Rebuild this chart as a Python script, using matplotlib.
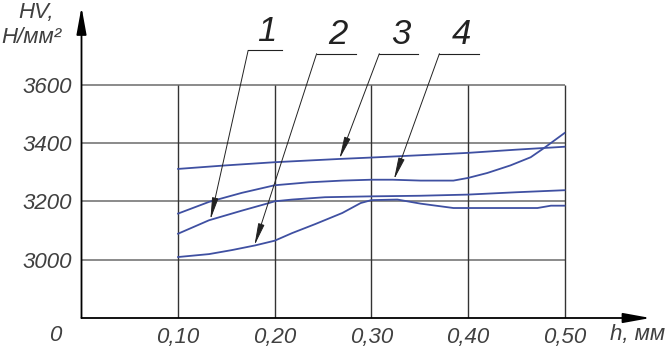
import numpy as np
import matplotlib.pyplot as plt
from matplotlib import font_manager

# Data
x_ticks = [0.10, 0.20, 0.30, 0.40, 0.50]
x_labels = ["0,10", "0,20", "0,30", "0,40", "0,50"]
y_ticks = [3000, 3200, 3400, 3600]
y_labels = ["3000", "3200", "3400", "3600"]

# curve 1
h1 = [0.10, 0.132, 0.166, 0.194, 0.20, 0.218, 0.252, 0.30, 0.35, 0.40, 0.45, 0.50]
hv1 = [3089, 3135, 3168, 3194, 3200, 3206, 3214, 3217, 3219, 3223, 3231, 3238]

# curve 2
h2 = [0.10, 0.132, 0.156, 0.18, 0.20, 0.218, 0.242, 0.27, 0.289, 0.30, 0.327,
      0.351, 0.385, 0.40, 0.472, 0.486, 0.50]
hv2 = [3009, 3019, 3033, 3049, 3065, 3091, 3122, 3160, 3194, 3204, 3206,
       3192, 3177, 3177, 3177, 3185, 3185]

# curve 3
h3 = [0.10, 0.149, 0.20, 0.266, 0.30, 0.351, 0.40, 0.45, 0.50]
hv3 = [3311, 3323, 3334, 3345, 3350, 3358, 3366, 3377, 3387]

# curve 4
h4 = [0.10, 0.132, 0.166, 0.20, 0.235, 0.27, 0.30, 0.322, 0.351, 0.385, 0.40,
      0.42, 0.444, 0.465, 0.479, 0.50]
hv4 = [3158, 3198, 3229, 3255, 3265, 3271, 3274, 3274, 3271, 3271, 3280,
       3297, 3323, 3351, 3383, 3434]

curves = [(h1, hv1), (h2, hv2), (h3, hv3), (h4, hv4)]
names = ["1", "2", "3", "4"]

# leader lines: where the arrow touches the curve, and the shelf under the number
tip_x = [0.1334, 0.179, 0.267, 0.3234]
shelf_x0 = [0.1725, 0.2434, 0.3083, 0.3705]
shelf_x1 = [0.208, 0.284, 0.348, 0.412]
shelf_y = [3717, 3706, 3706, 3706]

# narrow font if there is one, otherwise a smaller plain one
have = {f.name for f in font_manager.fontManager.ttflist}
narrow = [n for n in ["Liberation Sans Narrow", "DejaVu Sans Condensed"] if n in have]
if narrow:
    font = [narrow[0], "DejaVu Sans"]
    fs = 18.5
else:
    font = ["Liberation Sans", "DejaVu Sans"]
    fs = 16
txt = "#404040"
blue = "#3f50a2"

fig = plt.figure(figsize=(6.69, 3.54), dpi=100)
ax = fig.add_axes([81.5 / 669, 36 / 354, 0.6 * 966 / 669, 318 / 354])
ax.set_xlim(0, 0.6)
ax.set_ylim(2800, 3890)
for s in ax.spines.values():
    s.set_visible(False)

# grid
ax.hlines(y_ticks, 0, 0.5, color="#777777", lw=1.2, zorder=1)
ax.vlines(x_ticks, 2800, 3600, color="#333333", lw=1.0, zorder=1)

# axes with arrows
ax.annotate("", xy=(0, 3866), xytext=(0, 2800),
            arrowprops=dict(arrowstyle="-|>,head_length=1.1,head_width=0.2",
                            color="black", lw=1.3, mutation_scale=15,
                            shrinkA=0, shrinkB=0), annotation_clip=False)
ax.annotate("", xy=(0.589, 2800), xytext=(0, 2800),
            arrowprops=dict(arrowstyle="-|>,head_length=1.1,head_width=0.2",
                            color="black", lw=1.3, mutation_scale=15,
                            shrinkA=0, shrinkB=0), annotation_clip=False)

for h, hv in curves:
    ax.plot(h, hv, color=blue, lw=1.3, zorder=3)

# numbered leaders
for i in range(4):
    h, hv = curves[i]
    ty = np.interp(tip_x[i], h, hv)
    ax.plot([shelf_x0[i], shelf_x1[i]], [shelf_y[i], shelf_y[i]],
            color="#222222", lw=0.8, clip_on=False)
    ax.annotate("", xy=(tip_x[i], ty), xytext=(shelf_x0[i], shelf_y[i]),
                arrowprops=dict(arrowstyle="-|>,head_length=0.9,head_width=0.13",
                                color="#222222", lw=0.7, mutation_scale=15,
                                shrinkA=0, shrinkB=0), annotation_clip=False)
    ax.text((shelf_x0[i] + shelf_x1[i]) / 2 + 0.002, shelf_y[i] + 8, names[i],
            ha="center", va="bottom", fontsize=25, style="italic",
            family=font, color="#222222")

ax.set_xticks(x_ticks)
ax.set_xticklabels(x_labels)
ax.set_yticks(y_ticks)
ax.set_yticklabels(y_labels)
ax.tick_params(length=0, pad=6.5, labelsize=fs, colors=txt)
for lab in ax.get_xticklabels() + ax.get_yticklabels():
    lab.set_family(font)
    lab.set_style("italic")

fig.text(55 / 669, 1 - 325 / 354, "0", ha="center", va="top", fontsize=fs,
         style="italic", family=font, color=txt)
fig.text(610 / 669, 1 - 324 / 354, "h, мм", ha="left", va="top", fontsize=fs,
         style="italic", family=font, color=txt)
fig.text(18 / 669, 1 - 2 / 354, "HV,", ha="left", va="top", fontsize=fs,
         style="italic", family=font, color=txt)
fig.text(1 / 669, 1 - 27 / 354, "Н/мм²", ha="left", va="top", fontsize=fs,
         style="italic", family=font, color=txt)

fig.savefig("out.png", dpi=100)
